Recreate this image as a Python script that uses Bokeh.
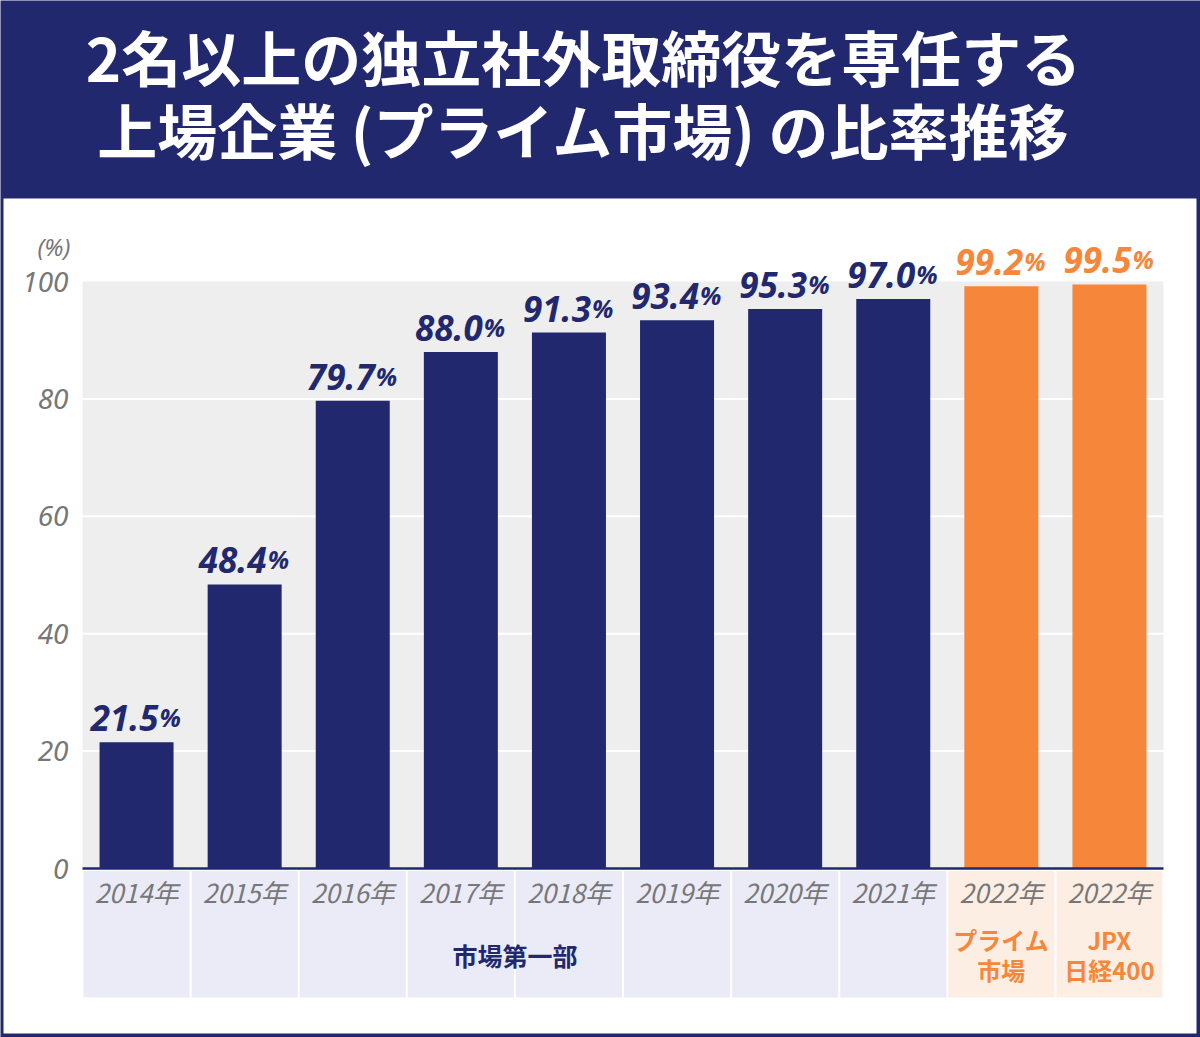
from bokeh.plotting import figure
from bokeh.models import Range1d, ColumnDataSource
from bokeh.core.properties import value
from bokeh.embed import file_html
from bokeh.resources import INLINE

# ---- data ----
years = ["2014年", "2015年", "2016年", "2017年", "2018年",
         "2019年", "2020年", "2021年", "2022年", "2022年"]
ratios = [21.5, 48.4, 79.7, 88.0, 91.3, 93.4, 95.3, 97.0, 99.2, 99.5]
is_prime = [False] * 8 + [True, True]
y_ticks = [0, 20, 40, 60, 80, 100]
title_lines = ["2名以上の独立社外取締役を専任する", "上場企業 (プライム市場) の比率推移"]
group_label = "市場第一部"
prime_label = ["プライム", "市場"]
jpx_label = ["JPX", "日経400"]

# ---- look ----
NAVY = "#22286e"
ORANGE = "#f5863a"
GREY_BG = "#eeeeee"
CELL_NAVY = "#ebebf8"
CELL_ORANGE = "#fdeee4"
TICK_GREY = "#777777"
JP = "Noto Sans CJK JP"

W, H = 1200, 1037
PX_LEFT, PX_RIGHT = 82, 1163      # plot area, pixels
PX_TOP, PX_ZERO = 281, 868        # y=100 and y=0, pixels
n = len(ratios)
xunit = (PX_RIGHT - PX_LEFT) / n
yunit = (PX_ZERO - PX_TOP) / 100.0


def px2x(px):
    return -0.5 + (px - PX_LEFT) / xunit


def px2y(py):
    return (PX_ZERO - py) / yunit


def cjk_y(py, size):
    # CJK glyphs sit a little low with a "middle" baseline; lift them
    return px2y(py - 0.12 * size)


p = figure(width=W, height=H, output_backend="svg", toolbar_location=None,
           x_range=Range1d(px2x(0), px2x(W)), y_range=Range1d(px2y(H), px2y(0)),
           x_axis_type=None, y_axis_type=None, min_border=0)
p.grid.visible = False
p.outline_line_color = None
p.background_fill_color = NAVY
p.border_fill_color = NAVY

# white panel inside the navy frame
p.quad(left=px2x(3), right=px2x(W - 4), bottom=px2y(H - 4), top=px2y(198),
       fill_color="white", line_color=None)

# title
for k, line in enumerate(title_lines):
    p.text(x=[px2x(583)], y=[cjk_y(62 + 73 * k, 60)], text=[line],
           text_font=value(JP), text_font_style="bold", text_font_size="60px",
           text_color="white", text_align="center", text_baseline="middle")

# plot background and grid
p.quad(left=-0.5, right=n - 0.5, bottom=0, top=100, fill_color=GREY_BG, line_color=None)
grid_vals = [v for v in y_ticks if 0 < v < 100]
p.segment(x0=[-0.5] * len(grid_vals), x1=[n - 0.5] * len(grid_vals),
          y0=grid_vals, y1=grid_vals, line_color="white", line_width=2)

# bars
idx = list(range(n))
colors = [ORANGE if f else NAVY for f in is_prime]
LABEL_GAP = 11  # pixels between bar top and its value label
src = ColumnDataSource(dict(
    x=idx, top=ratios, color=colors,
    num=[f"{v:.1f}" for v in ratios], pct=["%"] * n, year=years,
    num_y=[v + LABEL_GAP / yunit for v in ratios],
    pct_y=[v + (LABEL_GAP - 3) / yunit for v in ratios],
    cell_color=[CELL_ORANGE if f else CELL_NAVY for f in is_prime],
))
p.vbar(x="x", top="top", bottom=0, width=74 / xunit, fill_color="color",
       line_color=None, source=src)

# baseline
p.segment(x0=[-0.5], x1=[n - 0.5], y0=[0], y1=[0], line_color=NAVY, line_width=2.5)

# value labels: number plus a smaller percent sign
p.text(x="x", y="num_y", text="num", source=src, text_color="color",
       text_font=value("Noto Sans"), text_font_style="bold italic",
       text_font_size="35px", text_align="right", text_baseline="bottom",
       x_offset=22)
p.text(x="x", y="pct_y", text="pct", source=src, text_color="color",
       text_font=value("Noto Sans"), text_font_style="bold italic",
       text_font_size="25px", text_align="left", text_baseline="bottom",
       x_offset=23)

# y tick labels
p.text(x=[px2x(68)] * len(y_ticks), y=y_ticks, text=[str(v) for v in y_ticks],
       text_font=value("Noto Sans"), text_font_style="italic", text_font_size="28px",
       text_color=TICK_GREY, text_align="right", text_baseline="middle")
p.text(x=[px2x(70)], y=[px2y(246)], text=["(%)"],
       text_font=value("Noto Sans"), text_font_style="italic", text_font_size="24px",
       text_color=TICK_GREY, text_align="right", text_baseline="middle")

# category cells
p.vbar(x="x", width=1 - 2 / xunit, bottom=px2y(997), top=px2y(870.5),
       fill_color="cell_color", line_color=None, source=src)
p.text(x="x", y=px2y(891), text="year", source=src,
       text_font=value(JP), text_font_style="italic", text_font_size="26px",
       text_color=TICK_GREY, text_align="center", text_baseline="middle")

# market group labels
first_prime = is_prime.index(True)
p.text(x=[(first_prime - 1) / 2], y=[cjk_y(957, 25)], text=[group_label],
       text_font=value(JP), text_font_style="bold", text_font_size="25px",
       text_color=NAVY, text_align="center", text_baseline="middle")
for i, lines in ((first_prime, prime_label), (first_prime + 1, jpx_label)):
    for k, line in enumerate(lines):
        p.text(x=[i], y=[cjk_y(942 + 30 * k, 24)], text=[line],
               text_font=value(JP), text_font_style="bold", text_font_size="24px",
               text_color=ORANGE, text_align="center", text_baseline="middle")

open("out.html", "w").write(file_html(p, INLINE))
